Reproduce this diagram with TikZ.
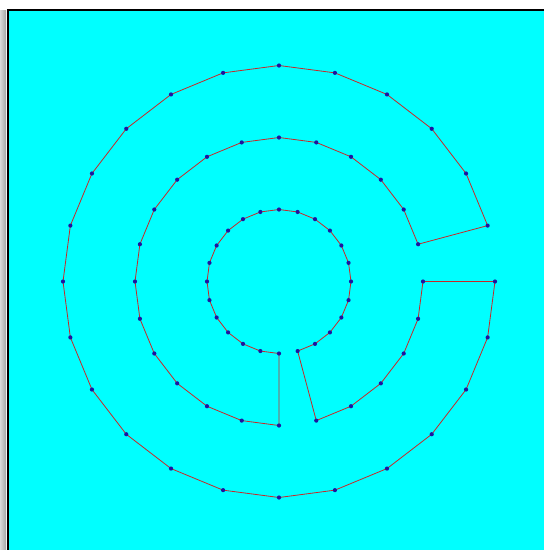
\documentclass[tikz,border=0pt]{standalone}
\usetikzlibrary{calc}
\definecolor{bgcyan}{RGB}{0,255,255}
\definecolor{edgered}{RGB}{200,40,40}
\definecolor{dotblue}{RGB}{30,20,160}
\tikzset{
  ringline/.style={draw=edgered, line width=0.8pt, line join=round},
  vdot/.style={fill=dotblue},
}
\begin{document}
\begin{tikzpicture}[x=1pt,y=-1pt]
\useasboundingbox (0,0) rectangle (544,550);
\fill[white] (0,0) rectangle (544,550);
\shade[left color=gray!30, right color=gray!70] (0,10) rectangle (6,550);
\fill[bgcyan] (8,10) rectangle (544,550);
\draw[black, line width=2.2pt] (7.8,550) -- (7.8,10.2) -- (544,10.2);
\coordinate (c) at (279,281.5);
% ring vertices (math angles, counterclockwise on screen)
\foreach \a in {15,30,...,360} \coordinate (o\a) at ($(c)+({216*cos(\a)},{-216*sin(\a)})$);
\foreach \a in {15,30,...,360} \coordinate (m\a) at ($(c)+({144*cos(\a)},{-144*sin(\a)})$);
\foreach \k in {0,...,23} \coordinate (in\k) at ($(c)+({72*cos(270-15*\k)},{-72*sin(270-15*\k)})$);
\draw[ringline] (o360)
  \foreach \a in {345,330,...,15} { -- (o\a) }
  \foreach \a in {15,30,...,270} { -- (m\a) }
  \foreach \k in {0,...,23} { -- (in\k) }
  \foreach \a in {285,300,...,360} { -- (m\a) }
  -- cycle;
\foreach \a in {15,30,...,360} \fill[vdot] (o\a) circle (2.1);
\foreach \a in {15,30,...,270} \fill[vdot] (m\a) circle (2.1);
\foreach \a in {285,300,...,360} \fill[vdot] (m\a) circle (2.1);
\foreach \k in {0,...,23} \fill[vdot] (in\k) circle (2.1);
\end{tikzpicture}
\end{document}
